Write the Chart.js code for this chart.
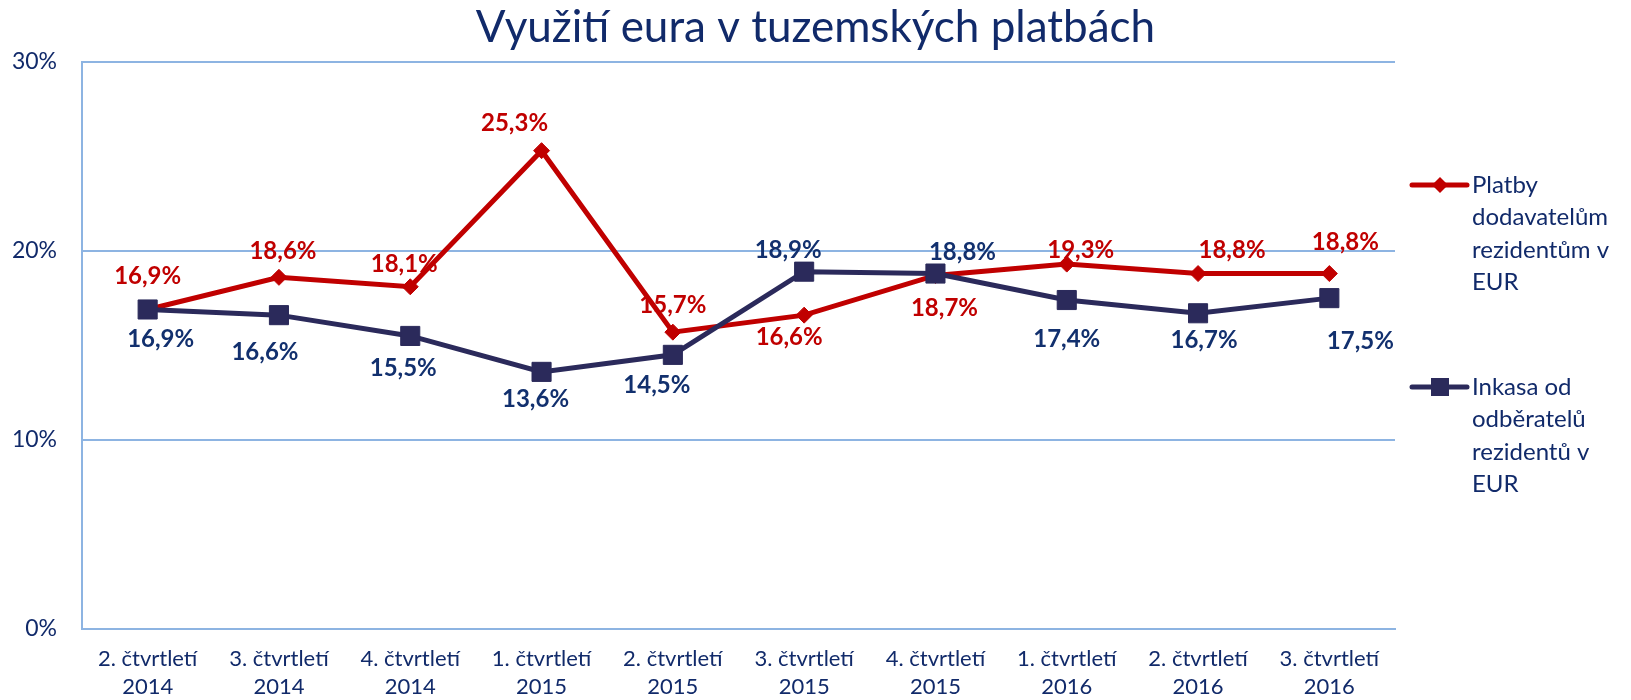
<!DOCTYPE html>
<html>
<head>
    <title>Využití eura v tuzemských platbách</title>
    <script src="https://cdn.jsdelivr.net/npm/chart.js"></script>
    <style>
        body { margin: 0; background: #fff; }
    </style>
</head>
<body>

<canvas id="euroChart" width="1631" height="700"></canvas>

<script>
    // data
    const quarters = [
        ['2. čtvrtletí', '2014'], ['3. čtvrtletí', '2014'], ['4. čtvrtletí', '2014'],
        ['1. čtvrtletí', '2015'], ['2. čtvrtletí', '2015'], ['3. čtvrtletí', '2015'],
        ['4. čtvrtletí', '2015'], ['1. čtvrtletí', '2016'], ['2. čtvrtletí', '2016'],
        ['3. čtvrtletí', '2016']
    ];
    const platby = [16.9, 18.6, 18.1, 25.3, 15.7, 16.6, 18.7, 19.3, 18.8, 18.8];
    const inkasa = [16.9, 16.6, 15.5, 13.6, 14.5, 18.9, 18.8, 17.4, 16.7, 17.5];
    const platbyName = ['Platby', 'dodavatelům', 'rezidentům v', 'EUR'];
    const inkasaName = ['Inkasa od', 'odběratelů', 'rezidentů v', 'EUR'];

    const RED = '#C00000';
    const NAVY = '#2B2A5B';
    const NAVY_TEXT = '#12306E';
    const TEXT = '#112A6A';
    const GRID = '#8DB4E2';
    const FONT = 'Lato';

    const fmt = v => v.toFixed(1).replace('.', ',') + '%';

    // value labels next to each point (Excel had them placed by hand, so per point offsets)
    const pointLabels = {
        id: 'pointLabels',
        afterDatasetsDraw(chart) {
            const ctx = chart.ctx;
            ctx.save();
            ctx.font = 'bold 24px ' + FONT;
            ctx.textAlign = 'center';
            ctx.textBaseline = 'middle';
            chart.data.datasets.forEach((ds, i) => {
                const meta = chart.getDatasetMeta(i);
                ctx.fillStyle = ds.labelColor;
                meta.data.forEach((pt, j) => {
                    ctx.fillText(fmt(ds.data[j]), pt.x + ds.labelDx[j], pt.y + ds.labelDy[j]);
                });
            });
            ctx.restore();
        }
    };

    // legend on the right with wrapped names
    const sideLegend = {
        id: 'sideLegend',
        afterDraw(chart) {
            const ctx = chart.ctx;
            const x0 = chart.chartArea.right + 17;
            const entries = [
                { ds: chart.data.datasets[0], y: 185 },
                { ds: chart.data.datasets[1], y: 387 }
            ];
            ctx.save();
            entries.forEach(e => {
                ctx.strokeStyle = e.ds.borderColor;
                ctx.lineWidth = 5;
                ctx.lineCap = 'round';
                ctx.beginPath();
                ctx.moveTo(x0, e.y);
                ctx.lineTo(x0 + 55, e.y);
                ctx.stroke();
                ctx.fillStyle = e.ds.borderColor;
                const cx = x0 + 28;
                ctx.beginPath();
                if (e.ds.pointStyle === 'rectRot') {
                    ctx.moveTo(cx, e.y - 8);
                    ctx.lineTo(cx + 8, e.y);
                    ctx.lineTo(cx, e.y + 8);
                    ctx.lineTo(cx - 8, e.y);
                    ctx.closePath();
                } else {
                    ctx.rect(cx - 9, e.y - 9, 18, 18);
                }
                ctx.fill();

                ctx.fillStyle = TEXT;
                ctx.font = '24px ' + FONT;
                ctx.textAlign = 'left';
                ctx.textBaseline = 'middle';
                e.ds.legendLines.forEach((line, k) => {
                    ctx.fillText(line, x0 + 60, e.y + k * 32.5);
                });
            });
            ctx.restore();
        }
    };

    const ctx = document.getElementById('euroChart').getContext('2d');
    const euroChart = new Chart(ctx, {
        type: 'line',
        data: {
            labels: quarters,
            datasets: [
                {
                    label: platbyName.join(' '),
                    legendLines: platbyName,
                    data: platby,
                    borderColor: RED,
                    backgroundColor: RED,
                    borderWidth: 5,
                    pointStyle: 'rectRot',
                    pointRadius: 8,
                    pointBorderWidth: 1,
                    pointBackgroundColor: RED,
                    tension: 0,
                    order: 1,
                    labelColor: RED,
                    labelDx: [0, 4, -6, -27, 0, -15, 9, 14, 34, 16],
                    labelDy: [-33, -26, -23, -27, -27, 22, 33, -14, -23, -31]
                },
                {
                    label: inkasaName.join(' '),
                    legendLines: inkasaName,
                    data: inkasa,
                    borderColor: NAVY,
                    backgroundColor: NAVY,
                    borderWidth: 5,
                    pointStyle: 'rect',
                    pointRadius: 13.5,
                    pointBorderWidth: 1,
                    pointBackgroundColor: NAVY,
                    tension: 0,
                    order: 0,
                    labelColor: NAVY_TEXT,
                    labelDx: [13, -14, -7, -6, -16, -16, 27, 0, 6, 31],
                    labelDy: [30, 37, 32, 27, 30, -21, -21, 39, 27, 43]
                }
            ]
        },
        options: {
            responsive: false,
            animation: false,
            layout: { padding: { left: 0, right: 0, top: 0, bottom: 0 } },
            plugins: {
                legend: { display: false },
                tooltip: { enabled: false },
                title: {
                    display: true,
                    text: 'Využití eura v tuzemských platbách',
                    color: TEXT,
                    font: { family: FONT, size: 44, weight: 'normal' },
                    padding: { top: 1, bottom: 8 }
                }
            },
            scales: {
                x: {
                    offset: true,
                    grid: { display: false },
                    border: { display: true, color: GRID, width: 2 },
                    ticks: {
                        color: TEXT,
                        font: { family: FONT, size: 22, lineHeight: 1.27 },
                        padding: 8,
                        maxRotation: 0,
                        autoSkip: false
                    },
                    afterFit: s => { s.height = 71; }
                },
                y: {
                    min: 0,
                    max: 30,
                    ticks: {
                        stepSize: 10,
                        color: TEXT,
                        font: { family: FONT, size: 23 },
                        padding: 25,
                        callback: v => v + '%'
                    },
                    grid: { color: GRID, lineWidth: 2, drawTicks: false },
                    border: { display: true, color: GRID, width: 2 },
                    afterFit: s => { s.width = 82; }
                },
                // empty right axis just to keep room for the legend
                side: {
                    position: 'right',
                    display: true,
                    grid: { display: false },
                    border: { display: false },
                    ticks: { display: false },
                    afterFit: s => { s.width = 236; }
                }
            }
        },
        plugins: [pointLabels, sideLegend]
    });
</script>

</body>
</html>
